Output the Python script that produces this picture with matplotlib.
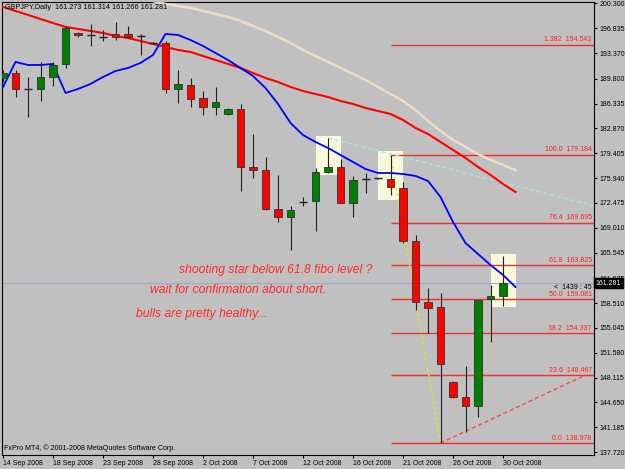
import matplotlib.pyplot as plt
from matplotlib.patches import Rectangle

# ---------------- data (GBPJPY daily, bar index 0 = 14 Sep 2008)
opens = [189.90, 190.60, 188.37, 188.37, 190.04, 191.86, 196.18, 195.83, 195.62, 195.97,
         196.04, 195.76, 194.79, 194.79, 188.37, 188.93, 187.11, 185.86, 184.88, 185.58,
         177.49, 177.07, 171.63, 170.52, 172.61, 172.75, 176.79, 177.49, 172.47, 175.82,
         175.89, 175.82, 174.56, 167.17, 158.66, 157.97, 147.50, 145.41, 144.16, 159.08,
         159.50]
highs = [191.02, 191.02, 190.04, 192.14, 192.14, 197.16, 196.32, 197.44, 196.60, 197.71,
         197.16, 196.04, 194.92, 195.06, 191.02, 189.90, 188.09, 188.65, 185.72, 186.28,
         182.09, 178.89, 176.38, 172.05, 173.31, 177.35, 181.54, 178.61, 176.24, 176.65,
         175.96, 179.18, 175.40, 168.01, 160.62, 159.92, 147.64, 149.74, 158.94, 161.03,
         165.08]
lows = [189.35, 187.25, 184.46, 186.70, 188.79, 191.30, 195.62, 194.37, 195.06, 195.20,
        195.48, 193.11, 194.65, 187.81, 186.42, 185.86, 184.74, 184.74, 184.74, 174.14,
        175.96, 171.49, 169.82, 165.91, 172.05, 168.56, 176.65, 172.47, 170.52, 173.86,
        175.75, 173.59, 166.89, 157.55, 154.34, 138.98, 145.27, 140.53, 142.62, 153.08,
        158.10]
closes = [190.60, 188.37, 188.40, 190.04, 191.72, 196.88, 195.83, 195.76, 195.58, 195.62,
          195.62, 195.72, 194.74, 188.37, 189.07, 186.97, 185.86, 186.56, 185.58, 177.49,
          177.07, 171.63, 170.52, 171.49, 172.57, 176.79, 177.49, 172.47, 175.68, 175.78,
          175.82, 174.70, 167.17, 158.66, 157.83, 150.02, 145.41, 144.16, 158.94, 159.50,
          161.28]

# moving averages (drawn shifted one bar right, so 42 points)
ma_blue = [188.65, 192.14, 191.72, 191.72, 191.86, 187.81, 188.37, 189.07, 190.04, 190.88,
           191.30, 192.00, 193.11, 196.04, 195.90, 195.20, 194.37, 193.39, 192.41, 191.30,
           190.18, 188.51, 186.28, 183.63, 181.95, 180.98, 180.14, 179.16, 178.19, 177.21,
           176.65, 176.65, 176.51, 176.24, 175.54, 173.31, 169.82, 166.89, 165.36, 163.82,
           162.43, 160.75]
ma_red = [199.81, 199.25, 198.69, 198.13, 197.57, 197.02, 196.74, 196.46, 196.18, 195.76,
          195.48, 195.06, 194.65, 194.23, 193.81, 193.53, 192.97, 192.41, 191.86, 191.30,
          190.60, 189.90, 189.35, 188.65, 188.09, 187.67, 187.25, 186.70, 186.28, 185.72,
          185.30, 184.88, 184.05, 182.93, 182.09, 180.98, 179.86, 178.75, 177.49, 176.38,
          175.12, 174.00]
ma_slow_start = 11
ma_slow = [200.92, 200.64, 200.22, 199.95, 199.67, 199.25, 198.83, 198.41, 197.85, 197.16,
           196.46, 195.62, 194.79, 193.81, 192.97, 192.14, 191.30, 190.46, 189.62, 188.65,
           187.67, 186.70, 185.44, 183.91, 182.51, 181.26, 180.28, 179.30, 178.47, 177.77,
           177.07]

date_labels = ['14 Sep 2008', '18 Sep 2008', '23 Sep 2008', '28 Sep 2008', '2 Oct 2008',
               '7 Oct 2008', '12 Oct 2008', '16 Oct 2008', '21 Oct 2008', '26 Oct 2008',
               '30 Oct 2008']
price_ticks = ['200.300', '196.835', '193.370', '189.800', '186.335', '182.870', '179.405',
               '175.940', '172.475', '169.010', '165.545', '161.975', '158.510', '155.045',
               '151.580', '148.115', '144.650', '141.185', '137.720']

fib_names = ['0.0', '23.6', '38.2', '50.0', '61.8', '76.4', '100.0', '1.382']
fib_levels = [138.978, 148.467, 154.337, 159.081, 163.825, 169.695, 179.184, 194.543]
fib_start = 31

# highlight boxes: (bar from, bar to, price low, price high)
boxes = [(25, 27, 176.37, 181.81), (30, 32, 172.89, 179.72), (39, 41, 157.97, 165.36)]

cyan_x, cyan_y = [26, 47.2], [181.54, 172.13]
yellow_x, yellow_y = [31, 35], [179.184, 138.978]
reddash_x, reddash_y = [35, 46.6], [138.978, 148.467]

bid = 161.281

# ---------------- figure
bg = '#c0c0c0'
fig = plt.figure(figsize=(6.25, 4.69), dpi=100, facecolor=bg)
ax = fig.add_axes([2 / 625, 1 - 455 / 469, 592 / 625, 453 / 469], facecolor=bg)
ax.set_xlim(-0.08, 47.28)
ax.set_ylim(137.32, 200.50)
small = dict(family='Liberation Sans', size=5.0)

for b in boxes:
    ax.add_patch(Rectangle((b[0], b[2]), b[1] - b[0], b[3] - b[2],
                           facecolor='#f8f8da', edgecolor='none', zorder=1))

# fibo levels
for name, lvl in zip(fib_names, fib_levels):
    ax.hlines(lvl, fib_start, 47.28, color='#ee3030', lw=1.0, zorder=2)
    ax.text(0.996, lvl + 0.2, '%s  %.3f' % (name, lvl), transform=ax.get_yaxis_transform(),
            ha='right', va='bottom', color='#ff2020', zorder=6, **small)

ax.axhline(bid, color='#a4a8c8', lw=0.8, zorder=2)

ax.plot(cyan_x, cyan_y, color='#a8e4e4', lw=1, ls=(0, (3, 2)), zorder=3)
ax.plot(yellow_x, yellow_y, color='#e8e800', lw=1, ls=(0, (2, 2)), zorder=3)
ax.plot(reddash_x, reddash_y, color='#ff4848', lw=1, ls=(0, (3, 2)), zorder=3)

# moving averages
ax.plot(range(ma_slow_start, ma_slow_start + len(ma_slow)), ma_slow, color='#f0dcc4', lw=1.8, zorder=3)
ax.plot(range(len(ma_red)), ma_red, color='#ff0000', lw=1.5, zorder=3)
ax.plot(range(len(ma_blue)), ma_blue, color='#0000ff', lw=1.3, zorder=4)

# candles
for i in range(len(opens)):
    o, h, l, c = opens[i], highs[i], lows[i], closes[i]
    ax.vlines(i, l, h, color='#202020', lw=0.8, zorder=5)
    if abs(c - o) < 0.1:
        ax.hlines(o, i - 0.32, i + 0.32, color='#202020', lw=1.0, zorder=5)
    else:
        col = '#008000' if c > o else '#ff0000'
        ax.bar(i, c - o, bottom=o, width=0.58, color=col, edgecolor='#303030',
               lw=0.6, zorder=5)

# axes styling
for s in ax.spines.values():
    s.set_color('black')
    s.set_linewidth(0.8)
ax.yaxis.tick_right()
ax.set_yticks([float(t) for t in price_ticks])
ax.set_yticklabels(price_ticks, **small)
ax.set_xticks(range(0, 41, 4))
ax.set_xticklabels(date_labels, ha='left', **small)
ax.tick_params(axis='both', length=2.5, width=0.8, color='black', pad=1.2)

ax.text(0.005, 0.987, 'GBPJPY,Daily  161.273 161.314 161.266 161.281', transform=ax.transAxes,
        ha='left', va='center', color='black', zorder=6, family='Liberation Sans', size=5.2)
ax.text(0.004, 0.016, 'FxPro MT4, \u00a9 2001-2008 MetaQuotes Software Corp.', transform=ax.transAxes,
        ha='left', va='center', color='black', zorder=6, family='Liberation Sans', size=5.1)

ax.text(0.996, 160.62, '<  1439 : 45', transform=ax.get_yaxis_transform(), ha='right',
        va='center', color='black', zorder=6, **small)
ax.text(1.003, bid, '161.281', transform=ax.get_yaxis_transform(), ha='left', va='center',
        color='white', zorder=10, clip_on=False,
        bbox=dict(facecolor='black', edgecolor='black', pad=1.2), **small)

note = dict(family='Liberation Sans', style='italic', size=8.7, color='#ff2a2a', zorder=6)
ax.text(14.1, 163.12, 'shooting star below 61.8 fibo level ?', va='center', **note)
ax.text(11.8, 160.33, 'wait for confirmation about short.', va='center', **note)
ax.text(10.65, 156.99, 'bulls are pretty healthy...', va='center', **note)

fig.savefig('out.png', dpi=100, facecolor=bg)
